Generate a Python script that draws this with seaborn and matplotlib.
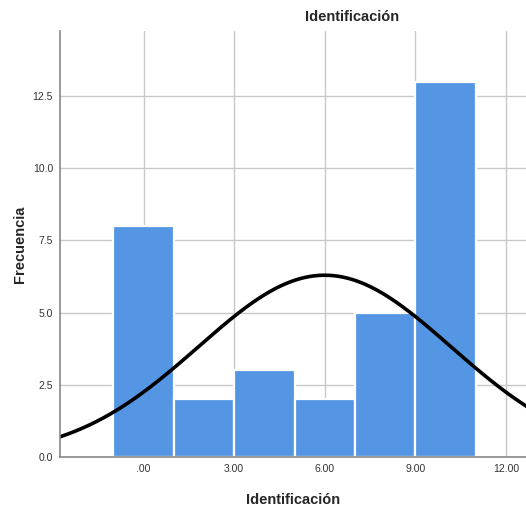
import numpy as np
import pandas as pd
import matplotlib
matplotlib.use("Agg")
import matplotlib.pyplot as plt
import seaborn as sns

# Data
bin_centers = [0, 2, 4, 6, 8, 10]
counts = [8, 2, 3, 2, 5, 13]
bin_edges = [-1, 1, 3, 5, 7, 9, 11]
x_ticks = [0, 3, 6, 9, 12]
x_tick_labels = [".00", "3.00", "6.00", "9.00", "12.00"]
y_ticks = [0, 2.5, 5, 7.5, 10, 12.5]
y_tick_labels = ["0.0", "2.5", "5.0", "7.5", "10.0", "12.5"]

df = pd.DataFrame({"Identificación": bin_centers, "n": counts})

sns.set_style("white")
plt.rcParams['font.family'] = ['Liberation Sans', 'DejaVu Sans']

fig = plt.figure(figsize=(5.26, 5.13), dpi=100)
ax = fig.add_axes([60/526, 1-457/513, 1-60/526, (457-31)/513])

ax.set_axisbelow(True)
ax.grid(True, color="#c8c8c8", linewidth=1)

sns.histplot(data=df, x="Identificación", weights="n", bins=bin_edges,
             color="#5596e4", edgecolor="white", linewidth=1.6, alpha=1, ax=ax)

# Normal curve fitted to the data
vals = np.repeat(bin_centers, counts)
mu = vals.mean()
sd = vals.std(ddof=1)
xs = np.linspace(-3, 13, 400)
bw = bin_edges[1] - bin_edges[0]
ys = len(vals) * bw / (sd * np.sqrt(2*np.pi)) * np.exp(-(xs-mu)**2/(2*sd**2))
ax.plot(xs, ys, color="black", linewidth=2.6)

ax.set_xlim(-2.77, 12.67)
ax.set_ylim(0, 14.75)
ax.set_xticks(x_ticks)
ax.set_xticklabels(x_tick_labels, fontsize=7.5)
ax.set_yticks(y_ticks)
ax.set_yticklabels(y_tick_labels, fontsize=7.5)
ax.tick_params(axis="both", length=0, pad=5, colors="#333333")

for s in ["top", "right"]:
    ax.spines[s].set_visible(False)
for s in ["left", "bottom"]:
    ax.spines[s].set_color("#888888")
    ax.spines[s].set_linewidth(1.2)

ax.set_xlabel("Identificación", fontsize=10.5, fontweight="bold", labelpad=14)
ax.set_ylabel("")
fig.text(20/526, 1-244/513, "Frecuencia", fontsize=10.5, fontweight="bold",
         rotation=90, ha="center", va="center")
fig.text(352/526, 1-17/513, "Identificación", fontsize=10.5, fontweight="bold",
         ha="center", va="center")

fig.savefig("out.png", dpi=100)
